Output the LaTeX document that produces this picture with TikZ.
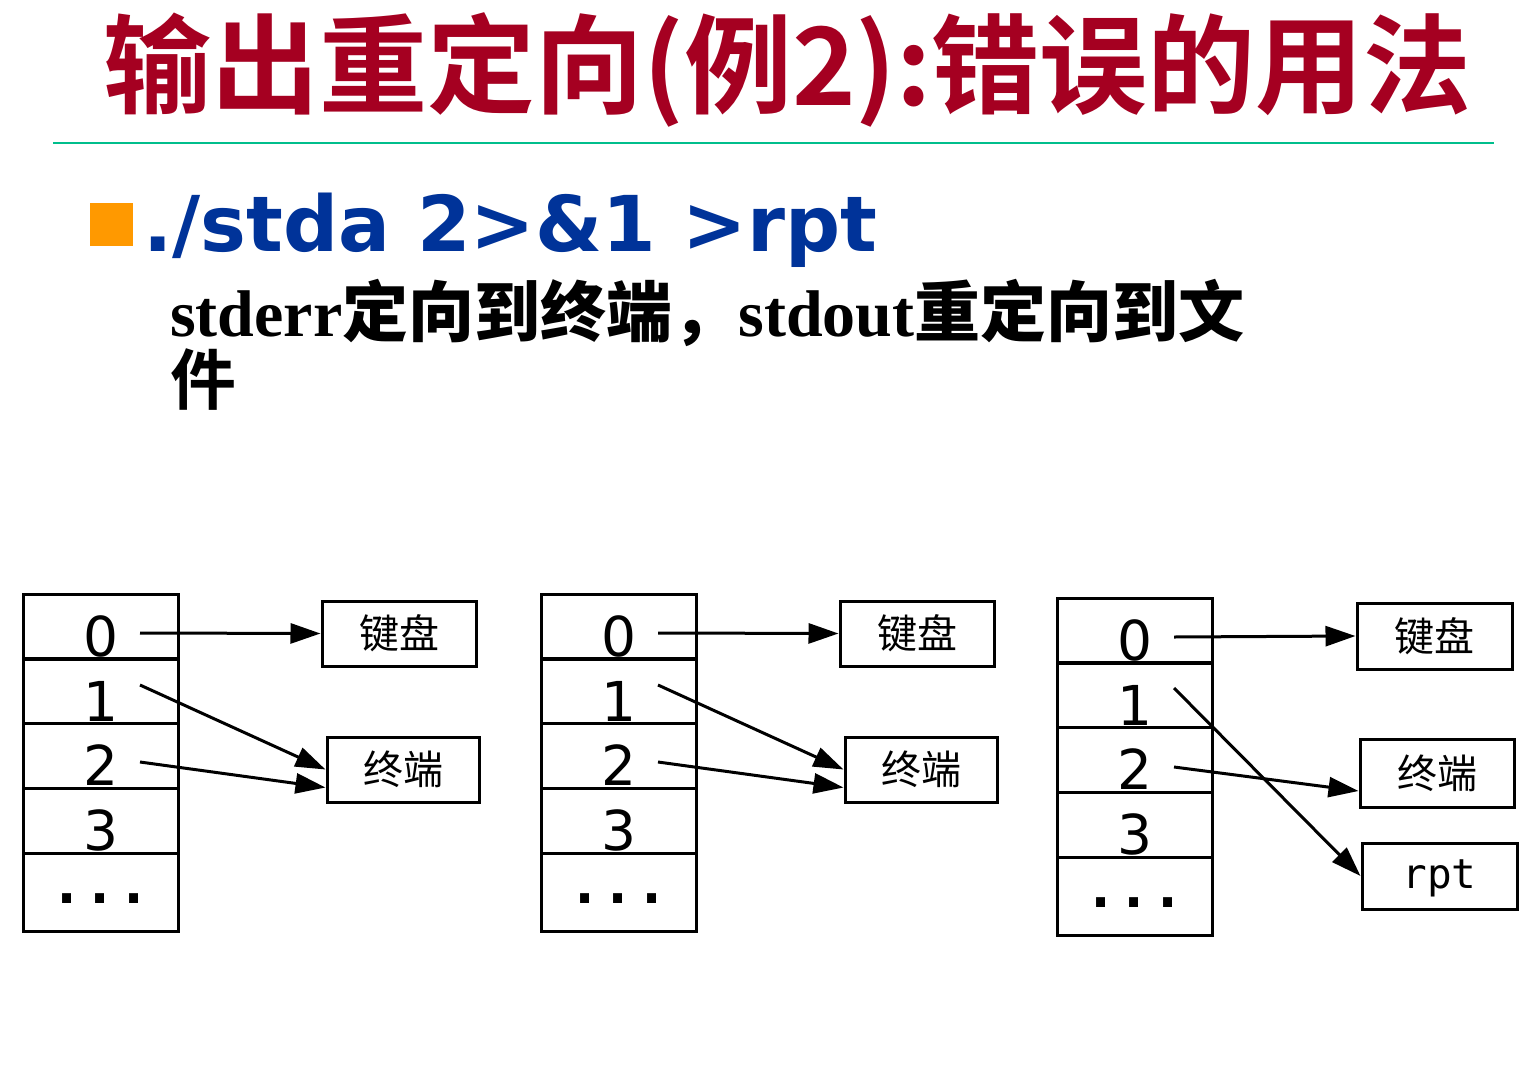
\documentclass[tikz,border=0pt]{standalone}
\usepackage{fontspec}
\setmainfont{Liberation Serif}
\newfontfamily\cjk{Noto Sans CJK SC}
\newfontfamily\cjkb{Noto Sans CJK SC Bold}
\newfontfamily\dvs{DejaVu Sans}
\newfontfamily\dvm{DejaVu Sans Mono}
\usetikzlibrary{arrows.meta}
\definecolor{titlered}{RGB}{165,0,33}
\definecolor{rulegreen}{RGB}{0,190,140}
\definecolor{cmdblue}{RGB}{0,51,153}
\definecolor{bulletorange}{RGB}{255,153,0}
\newcommand\fdtable[3]{%
  \node[cell] (#1r0) at (#2+77.5,#3+32.5) {0};
  \node[cell] (#1r1) at (#2+77.5,#3+97) {1};
  \node[cell] (#1r2) at (#2+77.5,#3+161.5) {2};
  \node[cell] (#1r3) at (#2+77.5,#3+226.5) {3};
  \node[lastcell] (#1r4) at (#2+77.5,#3+298) {...};
}
\begin{document}
\begin{tikzpicture}[x=1pt,y=-1pt,
  cell/.style={draw, line width=3pt, minimum width=155pt, minimum height=65pt,
    inner sep=0pt, font=\dvs\fontsize{55}{55}\selectfont, text height=60pt, text depth=0pt},
  lastcell/.style={cell, minimum height=78pt, text height=22pt, font=\dvm\bfseries\fontsize{55}{55}\selectfont},
  dev/.style={draw, line width=3pt, minimum width=154pt, minimum height=65pt,
    inner sep=0pt, font=\cjk\fontsize{40}{40}\selectfont},
  rptbox/.style={dev, font=\dvm\fontsize{41}{41}\selectfont, text height=24pt, text depth=0pt},
  fdarrow/.style={line width=3pt, -{Triangle[length=30pt 0 0,width=20pt 0 0]}},
]
\fill[white] (0,0) rectangle (1539,1071);
\useasboundingbox (0,0) rectangle (1539,1071);

% title
\node[font=\cjkb\fontsize{108}{110}\selectfont, text=titlered, inner sep=0pt] (title) at (787.5,70) {输出重定向(例2):错误的用法};
\draw[rulegreen, line width=2.5pt] (53,143) coordinate (rl) -- (1494,143) coordinate (rr);

% bullet and command
\node[fill=bulletorange, minimum size=43pt, inner sep=0pt] (bullet) at (111.5,224) {};
\node[anchor=base west, inner sep=0pt, text=cmdblue, font=\dvs\bfseries\fontsize{77}{80}\selectfont] (cmd) at (143,251) {./stda 2>\&1 >rpt};

% explanation
\node[anchor=base west, inner sep=0pt, font=\bfseries\fontsize{66}{69}\selectfont] (sub1) at (170,336) {stderr{\cjkb 定向到终端，}stdout{\cjkb 重定向到文}};
\node[anchor=base west, inner sep=0pt, font=\cjkb\fontsize{66}{69}\selectfont] (sub2) at (170,404) {件};

% diagram 1
\fdtable{a}{23}{594}
\node[dev] (akb) at (399,633.5) {键盘};
\node[dev, minimum width=152pt] (atm) at (403,769.5) {终端};
\coordinate (as0) at (140,633);
\coordinate (as1) at (140,685);
\coordinate (as2) at (140,762);
\draw[fdarrow] (as0) -- (akb.west);
\draw[fdarrow] (as1) -- (atm.west);
\draw[fdarrow] (as2) -- ([yshift=-18pt]atm.west);

% diagram 2
\fdtable{b}{541}{594}
\node[dev] (bkb) at (917,633.5) {键盘};
\node[dev, minimum width=152pt] (btm) at (921,769.5) {终端};
\coordinate (bs0) at (658,633);
\coordinate (bs1) at (658,685);
\coordinate (bs2) at (658,762);
\draw[fdarrow] (bs0) -- (bkb.west);
\draw[fdarrow] (bs1) -- (btm.west);
\draw[fdarrow] (bs2) -- ([yshift=-18pt]btm.west);

% diagram 3
\fdtable{c}{1057}{598}
\node[dev, minimum width=155pt, minimum height=66pt] (ckb) at (1434.5,636) {键盘};
\node[dev, minimum height=68pt] (ctm) at (1437,773) {终端};
\node[rptbox, minimum width=155pt, minimum height=66pt] (crpt) at (1439.5,876) {rpt};
\coordinate (cs0) at (1174,637);
\coordinate (cs1) at (1174,688);
\coordinate (cs2) at (1174,767);
\draw[fdarrow] (cs0) -- (ckb.west);
\draw[fdarrow] (cs1) -- (crpt.west);
\draw[fdarrow] (cs2) -- ([yshift=-18pt]ctm.west);
\end{tikzpicture}
\end{document}
